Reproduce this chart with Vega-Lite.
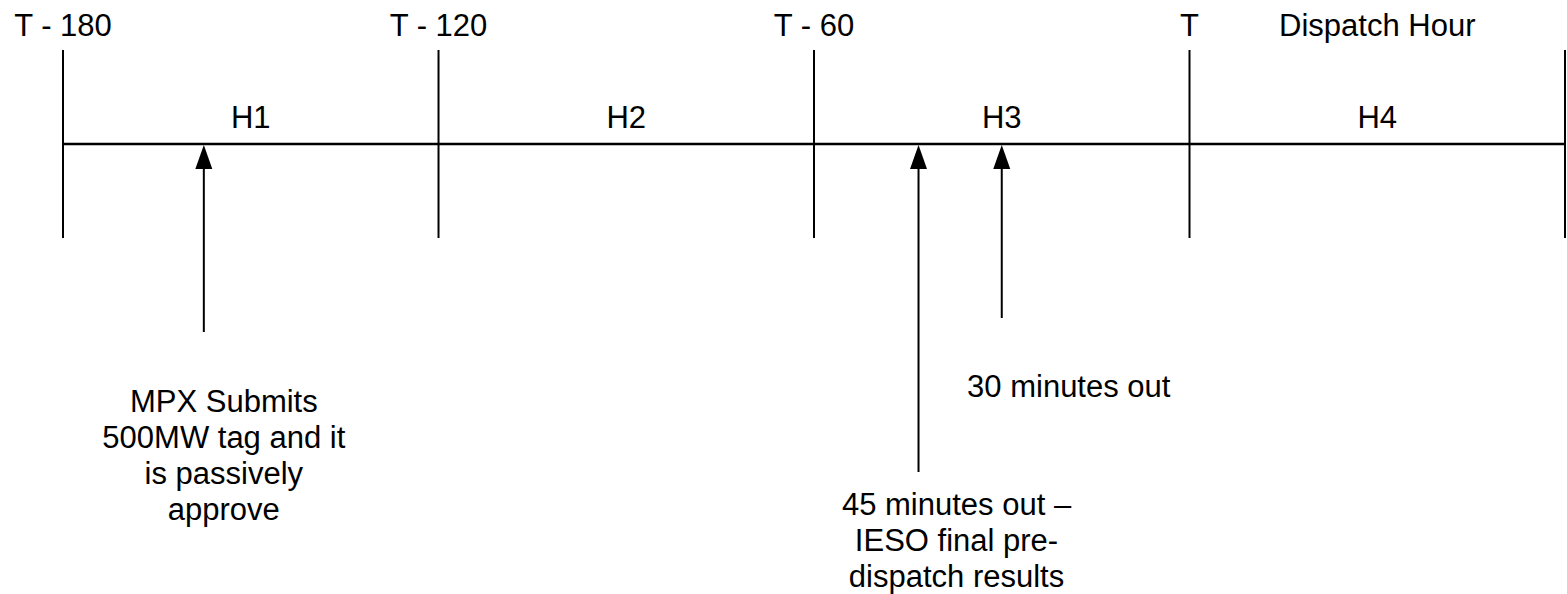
{
  "$schema": "https://vega.github.io/schema/vega-lite/v6.json",
  "width": 1567,
  "height": 594,
  "autosize": {"type": "fit", "contains": "padding"},
  "padding": 0,
  "background": "white",
  "config": {
    "view": {"stroke": null},
    "text": {"font": "Liberation Sans", "fontSize": 31, "color": "black", "lineBreak": "\n", "lineHeight": 36}
  },
  "datasets": {
    "ticks": [
      {"t": -180, "label": "T - 180"},
      {"t": -120, "label": "T - 120"},
      {"t": -60, "label": "T - 60"},
      {"t": 0, "label": "T"},
      {"t": 60, "label": ""}
    ],
    "hours": [
      {"hour": "H1", "start": -180, "end": -120, "mid": -150},
      {"hour": "H2", "start": -120, "end": -60, "mid": -90},
      {"hour": "H3", "start": -60, "end": 0, "mid": -30},
      {"hour": "H4", "start": 0, "end": 60, "mid": 30}
    ],
    "events": [
      {"id": "submit", "t": -157.5, "label": "MPX Submits\n500MW tag and it\nis passively\napprove"},
      {"id": "prd", "t": -43.3, "label": "45 minutes out –\nIESO final pre-\ndispatch results"},
      {"id": "m30", "t": -30, "label": "30 minutes out"}
    ]
  },
  "layer": [
    {
      "data": {"name": "ticks"},
      "mark": {"type": "rule", "color": "black", "strokeWidth": 2},
      "encoding": {
        "x": {"field": "t", "type": "quantitative", "scale": {"domain": [-190.07, 60.32], "nice": false, "zero": false}, "axis": null},
        "y": {"datum": 50, "type": "quantitative", "scale": {"domain": [0, 594], "reverse": true, "nice": false, "zero": false}, "axis": null},
        "y2": {"datum": 238}
      }
    },
    {
      "data": {"name": "hours"},
      "mark": {"type": "rule", "color": "black", "strokeWidth": 2.5},
      "encoding": {
        "x": {"field": "start", "type": "quantitative"},
        "x2": {"field": "end"},
        "y": {"datum": 144, "type": "quantitative"}
      }
    },
    {
      "data": {"name": "ticks"},
      "mark": {"type": "text", "align": "center", "baseline": "alphabetic"},
      "encoding": {
        "x": {"field": "t", "type": "quantitative"},
        "y": {"datum": 36, "type": "quantitative"},
        "text": {"field": "label"}
      }
    },
    {
      "data": {"values": [{"t": 30, "label": "Dispatch Hour"}]},
      "mark": {"type": "text", "align": "center", "baseline": "alphabetic"},
      "encoding": {
        "x": {"field": "t", "type": "quantitative"},
        "y": {"datum": 36, "type": "quantitative"},
        "text": {"field": "label"}
      }
    },
    {
      "data": {"name": "hours"},
      "mark": {"type": "text", "align": "center", "baseline": "alphabetic"},
      "encoding": {
        "x": {"field": "mid", "type": "quantitative"},
        "y": {"datum": 128, "type": "quantitative"},
        "text": {"field": "hour"}
      }
    },
    {
      "data": {"name": "events"},
      "transform": [{"filter": "datum.id === 'submit'"}],
      "mark": {"type": "rule", "color": "black", "strokeWidth": 2},
      "encoding": {
        "x": {"field": "t", "type": "quantitative"},
        "y": {"datum": 332, "type": "quantitative"},
        "y2": {"datum": 165}
      }
    },
    {
      "data": {"name": "events"},
      "transform": [{"filter": "datum.id === 'prd'"}],
      "mark": {"type": "rule", "color": "black", "strokeWidth": 2},
      "encoding": {
        "x": {"field": "t", "type": "quantitative"},
        "y": {"datum": 472, "type": "quantitative"},
        "y2": {"datum": 165}
      }
    },
    {
      "data": {"name": "events"},
      "transform": [{"filter": "datum.id === 'm30'"}],
      "mark": {"type": "rule", "color": "black", "strokeWidth": 2},
      "encoding": {
        "x": {"field": "t", "type": "quantitative"},
        "y": {"datum": 318, "type": "quantitative"},
        "y2": {"datum": 165}
      }
    },
    {
      "data": {"name": "events"},
      "mark": {"type": "point", "shape": "M0,-1L-0.708,1L0.708,1Z", "filled": true, "color": "black", "opacity": 1, "size": 576, "strokeWidth": 0},
      "encoding": {
        "x": {"field": "t", "type": "quantitative"},
        "y": {"datum": 157, "type": "quantitative"}
      }
    },
    {
      "data": {"name": "events"},
      "transform": [{"filter": "datum.id === 'submit'"}],
      "mark": {"type": "text", "align": "center", "baseline": "alphabetic", "dx": 20},
      "encoding": {
        "x": {"field": "t", "type": "quantitative"},
        "y": {"datum": 412, "type": "quantitative"},
        "text": {"field": "label"}
      }
    },
    {
      "data": {"name": "events"},
      "transform": [{"filter": "datum.id === 'prd'"}],
      "mark": {"type": "text", "align": "center", "baseline": "alphabetic", "dx": 38},
      "encoding": {
        "x": {"field": "t", "type": "quantitative"},
        "y": {"datum": 515, "type": "quantitative"},
        "text": {"field": "label"}
      }
    },
    {
      "data": {"name": "events"},
      "transform": [{"filter": "datum.id === 'm30'"}],
      "mark": {"type": "text", "align": "center", "baseline": "alphabetic", "dx": 67},
      "encoding": {
        "x": {"field": "t", "type": "quantitative"},
        "y": {"datum": 397, "type": "quantitative"},
        "text": {"field": "label"}
      }
    }
  ]
}
